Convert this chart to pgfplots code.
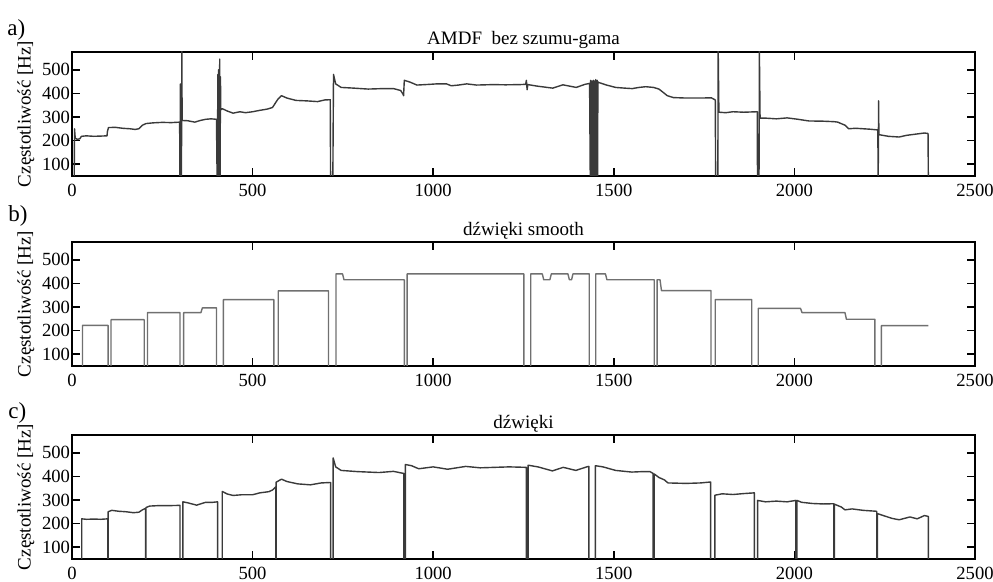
\documentclass[border=0pt]{standalone}
\usepackage{fontspec}
\setmainfont{Liberation Serif}
\usepackage{pgfplots}
\pgfplotsset{compat=1.18}
\definecolor{sigdark}{HTML}{3A3A3A}
\definecolor{siglight}{HTML}{707070}
\pgfplotsset{
  panel/.style={
    scale only axis, width=451.5pt, height=62pt,
    anchor=north west,
    xmin=0, xmax=2500, ymin=50, ymax=575,
    xtick={0,500,1000,1500,2000,2500},
    ytick={100,200,300,400,500},
    tick align=inside, major tick length=4pt,
    xtick pos=both, ytick pos=both,
    axis line style={line width=1.1pt},
    major tick style={line width=0.8pt, black},
    tick label style={font=\fontsize{9.3}{11}\selectfont},
    /pgf/number format/assume math mode=true,
    /pgf/number format/1000 sep={},
    xticklabel style={yshift=-0.5pt},
    yticklabel style={xshift=2.5pt},
    ylabel={Częstotliwość [Hz]},
    ylabel style={font=\fontsize{9.5}{11}\selectfont, yshift=-3pt},
    title style={font=\fontsize{9.5}{11}\selectfont, yshift=-8pt},
    every axis plot/.append style={line width=0.7pt, line join=round},
  },
}
\tikzset{panellabel/.style={font=\fontsize{11.5}{13}\selectfont, anchor=west, inner sep=0pt}}
\begin{document}
\begin{tikzpicture}
% a) AMDF bez szumu-gama
\begin{axis}[panel, name=A, at={(0,0)}, title={AMDF\ \ bez szumu-gama}]
\addplot[sigdark] coordinates {
(0,0) (6,0) (7,250) (9,210) (15,205) (22,208) (26,218) (40,220) (60,218) (80,219) (97,220)
(98,238) (101,255) (120,256) (140,252) (160,250) (175,247) (185,250) (195,265) (205,272)
(225,275) (250,277) (275,276) (298,278) (299,0) (300,440) (301,0) (303,0) (304,590) (305,285)
(320,284) (340,278) (355,285) (370,290) (385,292) (400,290) (402,0) (404,480) (405,0)
(406,500) (407,0) (409,545) (410,0) (411,470) (412,330) (416,335) (430,325) (446,316)
(465,322) (480,318) (500,322) (520,328) (540,333) (555,340) (570,375) (580,390) (595,380)
(620,370) (650,368) (680,365) (700,372) (715,373) (716,0) (722,0) (724,480) (730,440)
(745,425) (780,422) (820,418) (860,420) (890,420) (910,412) (917,395) (918,390) (920,455)
(935,448) (955,435) (990,438) (1010,440) (1037,440) (1050,432) (1070,435) (1093,440)
(1120,435) (1167,437) (1200,436) (1240,437) (1256,438) (1258,455) (1260,415) (1262,437)
(1290,430) (1331,422) (1359,436) (1396,425) (1420,438) (1433,442)
(1435,0) (1436,455) (1437,0) (1438,450) (1439,0) (1440,452) (1441,0) (1442,448) (1443,0)
(1444,455) (1445,0) (1446,450) (1447,0) (1448,452) (1449,0) (1450,458) (1451,0) (1452,450)
(1453,0) (1454,455) (1455,0) (1456,450) (1457,445)
(1460,445) (1480,435) (1505,425) (1530,422) (1551,420) (1570,425) (1588,428) (1610,425)
(1625,418) (1640,400) (1648,390) (1665,382) (1700,380) (1740,380) (1770,381) (1781,372)
(1782,0) (1788,0) (1789,590) (1791,320) (1810,318) (1830,322) (1860,320) (1897,322)
(1898,0) (1902,0) (1903,590) (1904,440) (1905,295) (1920,295) (1950,292) (1980,296)
(2010,290) (2040,283) (2080,282) (2110,280) (2120,278) (2140,265) (2150,250) (2170,252)
(2190,250) (2210,248) (2231,245) (2232,0) (2233,368) (2234,225) (2260,218) (2290,215)
(2310,222) (2340,228) (2360,232) (2370,230) (2371,0)
};
\end{axis}
\node[panellabel] at ([xshift=-32.5pt,yshift=11pt]A.north west) {a)};

% b) dzwieki smooth
\begin{axis}[panel, name=B, at={(0,-95pt)}, title={dźwięki smooth}]
\addplot[siglight] coordinates {
(29,0) (29,222) (100,222) (100,0)
(108,0) (108,246) (200,246) (200,0)
(209,0) (209,276) (299,276) (299,0)
(309,0) (309,276) (357,276) (361,296) (400,296) (400,0)
(419,0) (419,331) (559,331) (559,0)
(571,0) (571,368) (710,368) (710,0)
(731,0) (731,440) (749,440) (753,415) (920,415) (920,0)
(928,0) (928,440) (1251,440) (1251,0)
(1270,0) (1270,440) (1302,440) (1306,415) (1323,415) (1327,440) (1373,440) (1377,415)
(1383,415) (1387,440) (1432,440) (1432,0)
(1450,0) (1450,440) (1477,440) (1481,415) (1612,415) (1612,0)
(1620,0) (1620,415) (1628,415) (1632,369) (1769,369) (1769,0)
(1781,0) (1781,331) (1882,331) (1882,0)
(1900,0) (1900,294) (2017,294) (2021,276) (2140,276) (2144,248) (2223,248) (2223,0)
(2241,0) (2241,221) (2371,221)
};
\end{axis}
\node[panellabel] at ([xshift=-32pt,yshift=13pt]B.north west) {b)};

% c) dzwieki
\begin{axis}[panel, name=C, at={(0,-191.5pt)}, title={dźwięki}]
\addplot[sigdark] coordinates {
(27,0) (27,220) (40,218) (60,219) (80,218) (99,220) (99,0)
(100,0) (100,250) (110,256) (130,252) (150,250) (170,246) (185,248) (195,258) (204,265) (204,0)
(205,0) (205,268) (215,274) (240,276) (270,276) (299,277) (299,0)
(307,0) (307,292) (320,288) (345,278) (370,290) (390,290) (403,292) (403,0)
(416,0) (416,336) (430,325) (446,319) (470,322) (500,322) (520,330) (545,335) (555,342) (564,355) (564,0)
(565,0) (565,375) (580,388) (595,378) (625,368) (660,364) (690,372) (716,374) (716,0)
(723,0) (723,478) (730,440) (745,425) (790,420) (850,416) (890,421) (919,412) (919,0)
(923,0) (923,450) (940,445) (960,432) (1000,440) (1040,430) (1090,442) (1130,436) (1170,438) (1210,440) (1258,438) (1258,0)
(1263,0) (1263,447) (1290,440) (1330,423) (1360,438) (1395,425) (1425,440) (1431,442) (1431,0)
(1449,0) (1449,445) (1470,440) (1505,425) (1550,418) (1580,420) (1600,420) (1609,412) (1609,0)
(1612,0) (1612,410) (1625,395) (1640,385) (1650,372) (1700,370) (1740,372) (1768,376) (1768,0)
(1780,0) (1780,320) (1800,326) (1830,323) (1860,327) (1889,330) (1889,0)
(1898,0) (1898,298) (1920,292) (1950,295) (1980,292) (2004,298) (2004,0)
(2007,0) (2007,298) (2020,290) (2050,285) (2080,283) (2109,284) (2109,0)
(2111,0) (2111,282) (2130,270) (2140,258) (2160,262) (2190,256) (2228,252) (2228,0)
(2230,0) (2230,242) (2250,232) (2270,222) (2290,216) (2320,228) (2340,220) (2360,234) (2371,230) (2371,0)
};
\end{axis}
\node[panellabel] at ([xshift=-32pt,yshift=11pt]C.north west) {c)};

\pgfresetboundingbox
\path (A.north west) ++(-36pt,26pt) rectangle ++(496.5pt,-291pt);
\end{tikzpicture}
\end{document}
